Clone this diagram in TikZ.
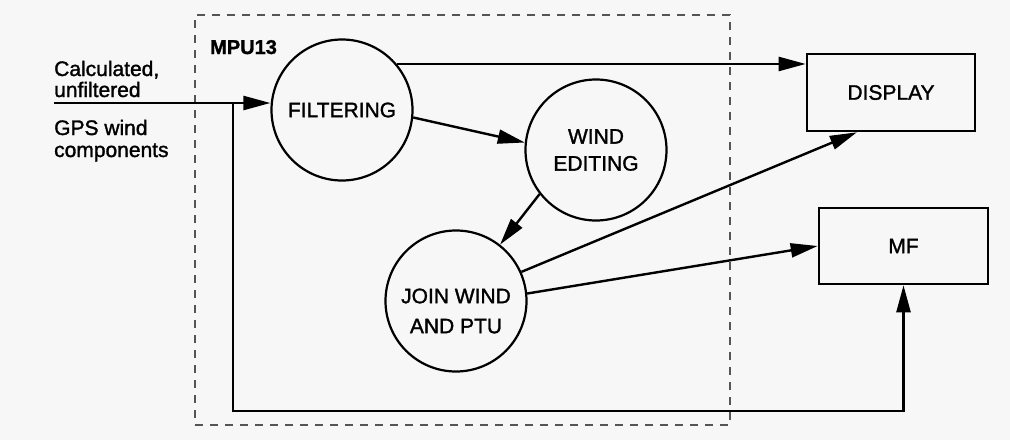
\documentclass[tikz,border=0pt]{standalone}
\usepackage{fontspec}
\setmainfont{Liberation Sans}[FakeBold=1.4]
\usetikzlibrary{arrows.meta,calc}
\definecolor{bgcol}{RGB}{247,247,247}
\definecolor{dashcol}{RGB}{85,85,85}
\begin{document}
\begin{tikzpicture}[x=1pt,y=-1pt,
  every node/.style={font=\fontsize{21}{22}\selectfont, text=black},
  proc/.style={circle, draw, line width=2.2pt, minimum size=141pt, inner sep=0pt, align=center},
  box/.style={rectangle, draw, line width=2.6pt, inner sep=0pt},
  arr/.style={line width=2.4pt, -{Triangle[length=27pt,width=14pt]}},
  lab/.style={anchor=base west, inner sep=0pt},
  mpubox/.style={draw=dashcol, line width=1.3pt, dash pattern=on 8pt off 7pt, minimum width=535pt, minimum height=410pt, inner sep=0pt}]

\fill[bgcol] (0,0) rectangle (1010,440);
\useasboundingbox (0,0) rectangle (1010,440);

\node[mpubox] (mpu) at (462.5,220) {};
\node[anchor=base west, inner sep=0pt, font=\bfseries\fontsize{20}{22}\selectfont] (mputxt) at (210,54) {MPU13};

\node[proc] (filt) at (342,110) {FILTERING};
\node[proc, font=\fontsize{21}{27}\selectfont] (wind) at (596,150) {WIND\\EDITING};
\node[proc, label={[align=center, font=\fontsize{21}{30}\selectfont, yshift=-10pt]center:JOIN WIND\\AND PTU}] (join) at (456,301) {};

\node[box, minimum width=168pt, minimum height=77pt] (disp) at (891,92.5) {DISPLAY};
\node[box, minimum width=169pt, minimum height=76pt] (mf) at (903.5,246) {MF};

\node[lab] (l1) at (54,76) {Calculated,};
\node[lab] (l2) at (54,97) {unfiltered};
\node[lab] (l3) at (54,135) {GPS wind};
\node[lab] (l4) at (54,157) {components};

\coordinate (inp) at (54,103);
\coordinate (split) at (233,103);
\coordinate (bl) at (233,411);

\draw[arr] (inp) -- (inp -| filt.west);
\draw[arr] (split) -- (bl) -| (mf.south);
\draw[arr] (filt.40) -- (filt.40 -| disp.west);
\draw[arr] (filt.-6) -- (wind.174);
\draw[arr] (wind.218) -- (join.52);
\draw[arr] (join.24) -- ($(disp.south west)!0.3!(disp.south east)$);
\draw[arr] (join.6) -- (mf.west);
\end{tikzpicture}
\end{document}
